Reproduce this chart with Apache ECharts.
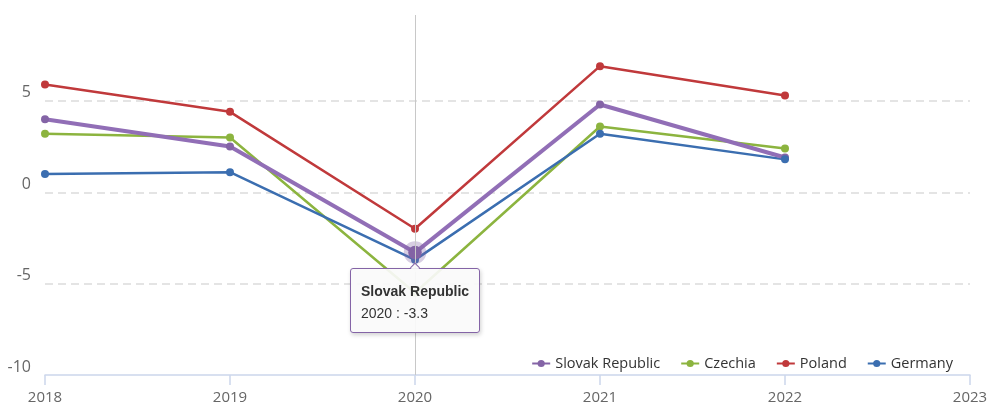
<!DOCTYPE html>
<html>
<head>
<meta charset="utf-8">
<title>GDP growth</title>
<script src="https://cdn.jsdelivr.net/npm/echarts@6/dist/echarts.min.js"></script>
<style>
  html, body { margin: 0; padding: 0; background: #fff; }
  #chart { width: 992px; height: 405px; }
</style>
</head>
<body>
<div id="chart"></div>
<script>
// Years on the horizontal axis (2023 has no values yet)
const years = ['2018', '2019', '2020', '2021', '2022', '2023'];

// Annual growth, %
const slovakRepublic = [4.0, 2.5, -3.3, 4.8, 1.9];
const czechia        = [3.2, 3.0, -5.5, 3.6, 2.4];
const poland         = [5.9, 4.4, -2.0, 6.9, 5.3];
const germany        = [1.0, 1.1, -3.7, 3.2, 1.8];

// Value axis range and tick step
const yMin = -10;
const yMax = 9.7;
const yStep = 5;

const FONT = '"Open Sans", "Noto Sans", sans-serif';
const TIP_FONT = "Arial, 'Liberation Sans', sans-serif";
const COLORS = {
  slovak: '#8464a6',
  czech: '#8cb43f',
  poland: '#c0393b',
  germany: '#3b6eb0'
};

function lineSeries(name, data, color, extra) {
  return Object.assign({
    name: name,
    type: 'line',
    data: data,
    color: color,
    symbol: 'circle',
    symbolSize: 8,
    lineStyle: { width: 2.5, color: color },
    itemStyle: { color: color },
    emphasis: { focus: 'none', scale: false, lineStyle: { width: 2.5 } }
  }, extra || {});
}

const chart = echarts.init(document.getElementById('chart'), null, { renderer: 'canvas' });

const option = {
  animation: false,
  backgroundColor: '#ffffff',
  textStyle: { fontFamily: FONT },
  grid: { left: 45, right: 22, top: 15, bottom: 30, containLabel: false },
  legend: {
    right: 34,
    top: 351,
    itemGap: 20,
    itemWidth: 18,
    itemHeight: 9,
    textStyle: { fontSize: 14.5, color: '#333', fontFamily: FONT },
    data: ['Slovak Republic', 'Czechia', 'Poland', 'Germany']
  },
  tooltip: {
    trigger: 'item',
    position: 'bottom',
    alwaysShowContent: true,
    backgroundColor: 'rgba(250,250,250,0.92)',
    borderWidth: 1.5,
    padding: [11, 10, 8, 10],
    textStyle: { fontSize: 14, color: '#333', fontFamily: TIP_FONT },
    extraCssText: 'box-shadow: 1px 2px 4px rgba(0,0,0,0.18); border-radius: 3px;',
    formatter: function (p) {
      return '<div style="font-family:' + TIP_FONT + ';font-size:14px;font-weight:bold;line-height:22px">' + p.seriesName + '</div>' +
             '<div style="font-family:' + TIP_FONT + ';font-size:14px;line-height:22px">' + p.name + ' : ' + p.value + '</div>';
    }
  },
  xAxis: {
    type: 'category',
    data: years,
    boundaryGap: false,
    axisLine: { show: true, onZero: false, lineStyle: { color: '#ccd6eb', width: 1.5 } },
    axisTick: { show: true, length: 10, lineStyle: { color: '#ccd6eb', width: 1.5 } },
    axisLabel: { color: '#666', fontSize: 15, margin: 15, fontFamily: FONT },
    splitLine: { show: false }
  },
  yAxis: {
    type: 'value',
    min: yMin,
    max: yMax,
    interval: yStep,
    axisLine: { show: false },
    axisTick: { show: false },
    axisLabel: {
      color: '#666',
      fontSize: 16,
      margin: 14,
      verticalAlign: 'bottom',
      fontFamily: FONT,
      formatter: function (v) { return (v % yStep === 0) ? String(v) : ''; }
    },
    splitLine: {
      show: true,
      lineStyle: {
        type: [8, 5],
        width: 1.5,
        color: ['rgba(0,0,0,0)', '#dcdcdc', '#dcdcdc', '#dcdcdc', 'rgba(0,0,0,0)']
      }
    }
  },
  series: [
    lineSeries('Slovak Republic', slovakRepublic, COLORS.slovak, {
      lineStyle: { width: 4, color: COLORS.slovak },
      emphasis: {
        focus: 'none',
        scale: 1.7,
        lineStyle: { width: 4 },
        itemStyle: { color: COLORS.slovak, borderColor: 'rgba(132,100,166,0.32)', borderWidth: 9 }
      }
    }),
    lineSeries('Czechia', czechia, COLORS.czech),
    lineSeries('Poland', poland, COLORS.poland),
    lineSeries('Germany', germany, COLORS.germany, {
      markLine: {
        silent: true,
        symbol: ['none', 'none'],
        label: { show: false },
        lineStyle: { color: '#c8c8c8', width: 1, type: 'solid' },
        emphasis: { disabled: true },
        data: [{ xAxis: years[2] }]
      }
    })
  ]
};

chart.setOption(option);

// Active point: Slovak Republic, 2020
chart.dispatchAction({ type: 'highlight', seriesIndex: 0, dataIndex: 2 });
chart.dispatchAction({ type: 'showTip', seriesIndex: 0, dataIndex: 2 });
</script>
</body>
</html>
